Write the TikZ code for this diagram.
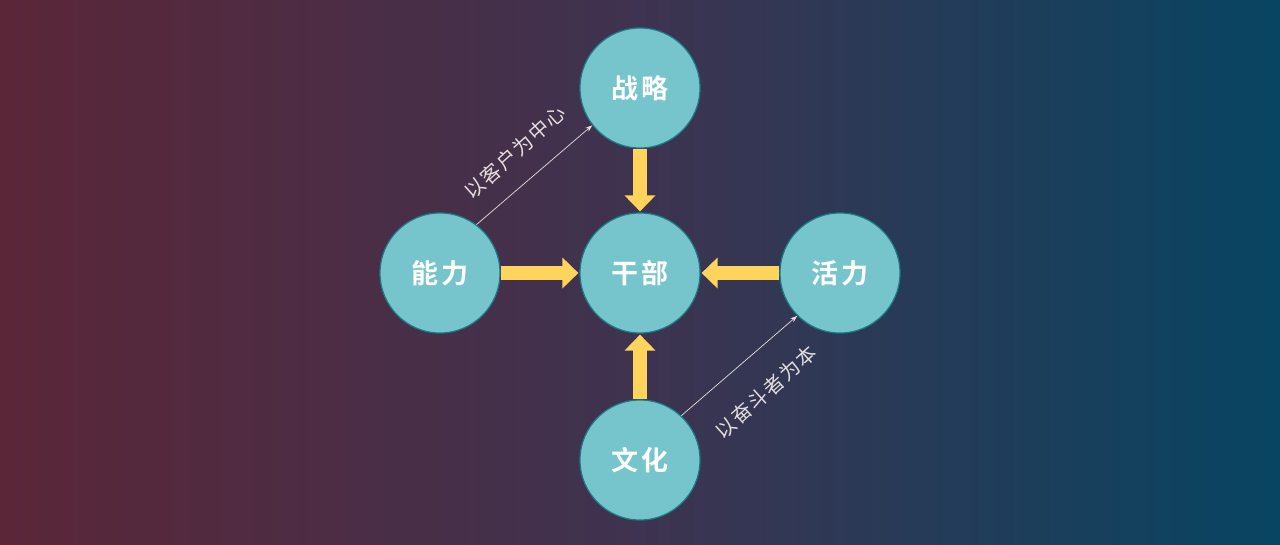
\documentclass[tikz,border=0pt]{standalone}
\usepackage{fontspec}
\newfontfamily\cjk[LetterSpace=8]{Noto Sans CJK SC}
\newfontfamily\cjkb[LetterSpace=14]{Noto Sans CJK SC Bold}
\usetikzlibrary{arrows.meta}
\definecolor{bgL}{HTML}{5B2638}
\definecolor{bgM}{HTML}{3E3350}
\definecolor{bgR}{HTML}{074562}
\definecolor{circfill}{HTML}{76C4CC}
\definecolor{circline}{HTML}{1B7B86}
\definecolor{arrowy}{HTML}{FFD45C}
\definecolor{thincol}{HTML}{E6DEDE}
\tikzset{
  node circ/.style={circle, minimum size=120pt, inner sep=0pt, fill=circfill, draw=circline, line width=1.2pt, text=white, font=\cjkb\fontsize{27}{30}\selectfont},
  fat/.style={draw=arrowy, line width=14pt, -{Triangle[width=30pt,length=16pt]}, shorten >=1pt},
  thin arrow/.style={draw=thincol, line width=0.7pt, -{Stealth[length=7pt,width=5pt]}},
  lab/.style={text=thincol, font=\cjk\fontsize{20}{22}\selectfont, inner sep=0pt}
}
\begin{document}
\begin{tikzpicture}[x=1pt,y=-1pt]
\shade[left color=bgL, right color=bgR, middle color=bgM] (0,0) rectangle (1280,544);
\useasboundingbox (0,0) rectangle (1280,544);
\node[node circ] (zl) at (640,88) {战略};
\node[node circ] (gb) at (640,273) {干部};
\node[node circ] (nl) at (440,273) {能力};
\node[node circ] (hl) at (840,273) {活力};
\node[node circ] (wh) at (640,460) {文化};
\draw[fat] (zl.south) -- (gb.north);
\draw[fat] (nl.east) -- (gb.west);
\draw[fat] (hl.west) -- (gb.east);
\draw[fat] (wh.north) -- (gb.south);
\draw[thin arrow] (nl.53) -- (zl.218);
\draw[thin arrow] (wh.47) -- (hl.225);
\node[lab, rotate=42] (l1) at (515,152) {以客户为中心};
\node[lab, rotate=42] (l2) at (766,392) {以奋斗者为本};
\end{tikzpicture}
\end{document}
